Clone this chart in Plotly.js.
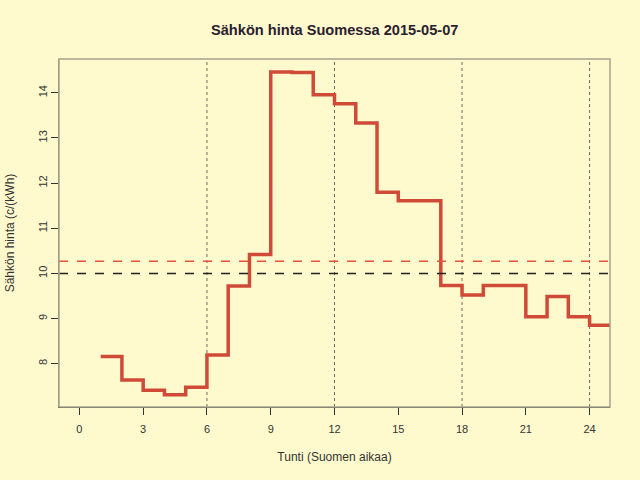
<!DOCTYPE html>
<html>
<head>
<meta charset="utf-8">
<script src="https://cdn.plot.ly/plotly-3.0.1.min.js"></script>
<style>
  html, body { margin: 0; padding: 0; background: #fffacd; }
  #chart { width: 640px; height: 480px; }
</style>
</head>
<body>
<div id="chart"></div>
<script>
// hourly price, c/kWh, hour start 1..24 (last value repeated to close the step at 25)
const hours = [1, 2, 3, 4, 5, 6, 7, 8, 9, 10, 11, 12, 13, 14, 15, 16, 17, 18, 19, 20, 21, 22, 23, 24, 25];
const prices = [8.16, 7.64, 7.41, 7.31, 7.48, 8.19, 9.72, 10.42, 14.46, 14.45, 13.96, 13.76,
  13.33, 11.80, 11.61, 11.61, 9.73, 9.52, 9.73, 9.73, 9.04, 9.49, 9.04, 8.85, 8.85];

const meanPrice = 10.27;
const refPrice = 10;
const gridHours = [6, 12, 18, 24];
const xTicks = [0, 3, 6, 9, 12, 15, 18, 21, 24];
const yTicks = [8, 9, 10, 11, 12, 13, 14];

const bg = "#fffacd";
const font = "Liberation Sans, Arial, sans-serif";

const shapes = [];

// dotted vertical guides
for (const h of gridHours) {
  shapes.push({
    type: "line", xref: "x", yref: "paper",
    x0: h, x1: h, y0: 0, y1: 1,
    line: { color: "#6e6a5a", width: 1, dash: "dot" },
    layer: "below",
  });
}

// reference levels
shapes.push({
  type: "line", xref: "paper", yref: "y",
  x0: 0, x1: 1, y0: refPrice, y1: refPrice,
  line: { color: "#222222", width: 1.5, dash: "dash" },
});
shapes.push({
  type: "line", xref: "paper", yref: "y",
  x0: 0, x1: 1, y0: meanPrice, y1: meanPrice,
  line: { color: "#e8523c", width: 1.5, dash: "dash" },
});

// plot box
shapes.push({
  type: "rect", xref: "paper", yref: "paper",
  x0: 0, x1: 1, y0: 0, y1: 1,
  line: { color: "#a8a28c", width: 1.5 },
});

const data = [
  {
    x: hours,
    y: prices,
    mode: "lines",
    line: { shape: "hv", color: "#cf4b37", width: 3.5 },
    hoverinfo: "x+y",
  },
];

const layout = {
  width: 640,
  height: 480,
  paper_bgcolor: bg,
  plot_bgcolor: bg,
  showlegend: false,
  margin: { l: 59, r: 30, t: 59, b: 73 },
  font: { family: font, size: 11, color: "#333333" },
  title: {
    text: "<b>Sähkön hinta Suomessa 2015-05-07</b>",
    font: { family: font, size: 14.6, color: "#2a2030" },
    x: 0.523, xanchor: "center",
    y: 0.937, yanchor: "middle",
  },
  xaxis: {
    range: [-0.96, 24.96],
    tickvals: xTicks,
    ticks: "outside",
    ticklen: 7,
    tickcolor: "#333333",
    ticklabelstandoff: 5,
    showgrid: false,
    zeroline: false,
    showline: true,
    linecolor: "#333333",
    linewidth: 1,
    title: { text: "Tunti (Suomen aikaa)", font: { size: 12, color: "#333333" }, standoff: 18 },
  },
  yaxis: {
    range: [7.04, 14.75],
    tickvals: yTicks,
    tickangle: -90,
    ticks: "outside",
    ticklen: 7,
    tickcolor: "#333333",
    showgrid: false,
    zeroline: false,
    showline: true,
    linecolor: "#8c8878",
    linewidth: 1,
    title: { text: "Sähkön hinta (c/(kWh)", font: { size: 12, color: "#333333" }, standoff: 19 },
  },
  shapes: shapes,
};

Plotly.newPlot("chart", data, layout, { displayModeBar: false, staticPlot: true });
</script>
</body>
</html>
